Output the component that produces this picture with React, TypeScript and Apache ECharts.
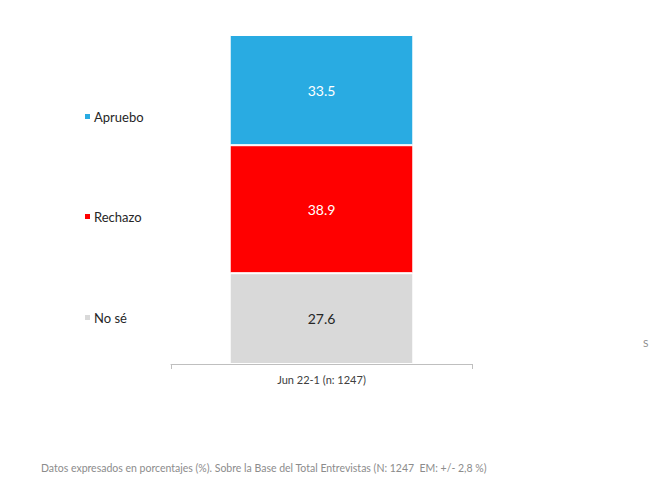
import React, { useEffect, useRef } from "react";
import * as echarts from "echarts";

const categories = ["Jun 22-1 (n: 1247)"];
const seriesNames = ["No sé", "Rechazo", "Apruebo"];
const seriesColors = ["#D9D9D9", "#FF0000", "#29ABE2"];
const labelColors = ["#262626", "#FFFFFF", "#FFFFFF"];
const noSe = [27.6];
const rechazo = [38.9];
const apruebo = [33.5];
const footnote = "Datos expresados en porcentajes (%). Sobre la Base del Total Entrevistas (N: 1247  EM: +/- 2,8 %)";

const FONT = "Lato, 'Open Sans', sans-serif";

export default function App() {
  const ref = useRef<HTMLDivElement>(null);
  useEffect(() => {
    if (!ref.current) return;
    const chart = echarts.init(ref.current, undefined, { renderer: "svg" });
    const values = [noSe, rechazo, apruebo];
    const legendTops = [306, 205, 105];
    chart.setOption({
      animation: false,
      textStyle: { fontFamily: FONT },
      grid: { left: 171, right: 178, top: 35, bottom: 123 },
      legend: seriesNames.map((n, i) => ({
        data: [n],
        left: 78,
        top: legendTops[i],
        orient: "vertical",
        icon: "rect",
        itemWidth: 7,
        itemHeight: 7,
        itemGap: 4,
        selectedMode: false,
        textStyle: { fontSize: 13, color: "#262626", fontFamily: FONT, padding: [0, 0, 0, -2] },
      })),
      xAxis: {
        type: "category",
        data: categories,
        axisLine: { lineStyle: { color: "#BFBFBF", width: 1 } },
        axisTick: { show: true, length: 5, alignWithLabel: false, lineStyle: { color: "#BFBFBF" } },
        axisLabel: { fontSize: 11, color: "#404040", margin: 10, fontFamily: FONT },
      },
      yAxis: {
        type: "value",
        min: 0,
        max: 100,
        show: false,
      },
      series: seriesNames.map((n, i) => ({
        name: n,
        type: "bar",
        stack: "total",
        barWidth: "61%",
        data: values[i],
        itemStyle: { color: seriesColors[i], borderColor: "#FFFFFF", borderWidth: 1 },
        label: {
          show: true,
          position: "inside",
          fontSize: 14,
          color: labelColors[i],
          fontFamily: FONT,
          formatter: (p: any) => p.value.toFixed(1),
        },
      })),
      graphic: [
        {
          type: "text",
          left: 41,
          top: 462,
          style: { text: footnote, fontSize: 10.5, fill: "#8C8C8C", fontFamily: FONT },
        },
        {
          type: "text",
          left: 643,
          top: 338,
          style: { text: "S", fontSize: 10, fill: "#8C8C8C", fontFamily: FONT },
        },
      ],
    });
    return () => chart.dispose();
  }, []);
  return <div ref={ref} style={{ width: 650, height: 487, position: "absolute", left: 0, top: 0 }} />;
}
